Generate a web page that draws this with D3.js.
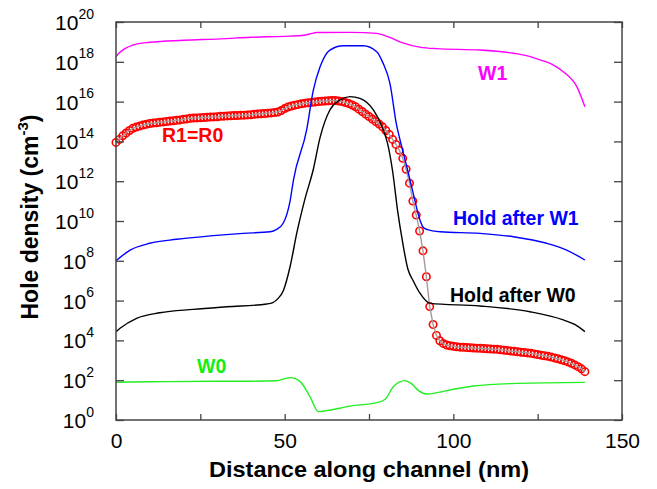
<!DOCTYPE html>
<html lang="en">
<head>
  <meta charset="UTF-8" />
  <title>Hole density along channel</title>
  <script src="https://d3js.org/d3.v7.min.js"></script>
  <style>
    body { margin: 0; background: #fff; }
    svg { font-family: "Liberation Sans", Arial, sans-serif; }
  </style>
</head>
<body>
  <svg width="657" height="489"></svg>
  <script>
    // log10 of hole density (cm^-3)
    const w1X   = [0, 1, 2.5, 5, 10, 20, 31, 40, 50, 55, 57.5, 59.5, 70, 77.3, 79.5, 82.2, 85, 90, 95, 107.9, 117.8, 122, 125.7, 129, 132.6, 136.6, 139];
    const w1Log = [18.26, 18.45, 18.65, 18.84, 18.98, 19.08, 19.15, 19.23, 19.28, 19.32, 19.4, 19.47, 19.48, 19.43, 19.33, 19.15, 18.95, 18.74, 18.66, 18.59, 18.43, 18.3, 18.1, 17.9, 17.5, 16.75, 15.74];

    const hw1X   = [0, 4.2, 10, 18, 27.9, 37.7, 45.7, 47.6, 49.6, 51.6, 52.6, 56.5, 58.5, 60.5, 63.4, 67.4, 73.3, 77.3, 79.2, 81.2, 83.2, 84.2, 86.2, 88.1, 90.1, 91, 92.1, 96.1, 107.9, 117.8, 127.7, 133.6, 139];
    const hw1Log = [8.0, 8.54, 8.88, 9.08, 9.25, 9.38, 9.46, 9.58, 9.9, 11.0, 12.06, 14.57, 16.58, 17.75, 18.59, 18.81, 18.81, 18.51, 17.92, 16.92, 14.8, 14.07, 12.73, 11.39, 10.05, 9.7, 9.58, 9.46, 9.38, 9.21, 8.88, 8.54, 8.04];

    const hw0X   = [0, 1.2, 6.1, 13, 22.9, 32.8, 44.7, 46.5, 48, 49.6, 51.6, 53.6, 56, 58.5, 60.5, 63.4, 66.4, 69.4, 72.3, 76.3, 79.2, 80.5, 82, 83.5, 85, 86.5, 88.1, 90.1, 93.1, 107.9, 122.7, 132.6, 136, 139];
    const hw0Log = [4.44, 4.61, 5.11, 5.39, 5.56, 5.69, 5.83, 5.9, 6.1, 6.5, 7.7, 9.4, 11.1, 12.6, 14.2, 15.58, 16.08, 16.25, 16.16, 15.58, 14.6, 13.9, 12.5, 10.5, 8.9, 7.6, 7.0, 6.37, 5.86, 5.73, 5.44, 5.03, 4.8, 4.44];

    const w0X   = [0, 10, 30, 39.7, 47.6, 51.6, 54.6, 57.5, 60, 62.5, 69.4, 77.3, 79.8, 82.2, 85.7, 87.5, 89.5, 92.1, 99, 105.9, 118.8, 139];
    const w0Log = [1.9, 1.92, 1.95, 1.95, 1.97, 2.13, 1.93, 1.17, 0.42, 0.47, 0.7, 0.87, 1.04, 1.67, 1.98, 1.84, 1.5, 1.31, 1.51, 1.71, 1.84, 1.89];

    // R1=R0, one marker per nm from 0 to 139
    const rLog = [
      13.95, 14.1, 14.28, 14.42, 14.55, 14.66, 14.72, 14.77, 14.82, 14.86,
      14.9, 14.92, 14.94, 14.96, 14.98, 15.0, 15.02, 15.04, 15.06, 15.08,
      15.11, 15.13, 15.16, 15.17, 15.18, 15.19, 15.2, 15.21, 15.22, 15.23,
      15.24, 15.26, 15.27, 15.28, 15.29, 15.3, 15.3, 15.31, 15.32, 15.33,
      15.34, 15.36, 15.38, 15.39, 15.4, 15.42, 15.43, 15.45, 15.48, 15.55,
      15.65, 15.73, 15.78, 15.82, 15.86, 15.89, 15.92, 15.94, 15.96, 15.98,
      16.0, 16.02, 16.03, 16.04, 16.05, 16.05, 16.03, 16.0, 15.95, 15.9,
      15.83, 15.74, 15.62, 15.5, 15.37, 15.25, 15.12, 15.0, 14.87, 14.73,
      14.55, 14.35, 14.1, 13.85, 13.55, 13.15, 12.6, 11.9, 11.0, 10.3,
      9.5, 8.5, 7.2, 5.7, 4.8, 4.25, 3.98, 3.85, 3.77, 3.73,
      3.7, 3.68, 3.66, 3.65, 3.64, 3.63, 3.62, 3.61, 3.6, 3.59,
      3.58, 3.57, 3.56, 3.55, 3.53, 3.51, 3.49, 3.47, 3.45, 3.43,
      3.41, 3.39, 3.37, 3.35, 3.32, 3.29, 3.26, 3.23, 3.2, 3.16,
      3.12, 3.08, 3.03, 2.98, 2.92, 2.85, 2.77, 2.68, 2.57, 2.43
    ];

    const xTicks = [0, 25, 50, 75, 100, 125, 150];
    const xLabels = [0, 50, 100, 150];
    const yExps = [0, 2, 4, 6, 8, 10, 12, 14, 16, 18, 20];

    const svg = d3.select("svg");
    const pL = 116, pR = 622, pT = 22, pB = 420;

    const x = d3.scaleLinear().domain([0, 150]).range([pL, pR]);
    const y = d3.scaleLog().domain([1, 1e20]).range([pB, pT]);

    const pts = (xs, ls) => xs.map((v, i) => [v, Math.pow(10, ls[i])]);
    const line = d3.line().x(d => x(d[0])).y(d => y(d[1])).curve(d3.curveMonotoneX);

    // red markers first, solid lines over them
    const rPts = rLog.map((v, i) => [i, Math.pow(10, v)]);
    svg.append("g")
      .selectAll("circle")
      .data(rPts)
      .join("circle")
      .attr("cx", d => x(d[0]))
      .attr("cy", d => y(d[1]))
      .attr("r", 3.7)
      .attr("fill", "none")
      .attr("stroke", "#ff0000")
      .attr("stroke-width", 1.6);
    svg.append("path")
      .datum(rPts)
      .attr("d", d3.line().x(d => x(d[0])).y(d => y(d[1])))
      .attr("fill", "none")
      .attr("stroke", "#a89898")
      .attr("stroke-width", 1.4);

    const series = [
      [w1X, w1Log, "#ff00ff"],
      [hw1X, hw1Log, "#0000ff"],
      [hw0X, hw0Log, "#000000"],
      [w0X, w0Log, "#22ee22"]
    ];
    series.forEach(([xs, ls, c]) => {
      svg.append("path")
        .datum(pts(xs, ls))
        .attr("d", line)
        .attr("fill", "none")
        .attr("stroke", c)
        .attr("stroke-width", 1.4);
    });

    // axes, ticks pointing inward
    const axisColor = "#444";
    svg.append("g")
      .attr("transform", `translate(0,${pB})`)
      .call(d3.axisBottom(x).tickValues(xTicks).tickSize(-6).tickSizeOuter(0).tickPadding(13)
        .tickFormat(d => xLabels.includes(d) ? d : ""))
      .call(g => g.select(".domain").remove())
      .call(g => g.selectAll("line").attr("stroke", axisColor).attr("stroke-width", 1.3))
      .call(g => g.selectAll("text").attr("font-size", 21).attr("font-family", "Liberation Sans").attr("fill", "#000"));

    svg.append("g")
      .attr("transform", `translate(0,${pT})`)
      .call(d3.axisTop(x).tickValues(xTicks).tickSize(-6).tickSizeOuter(0).tickFormat(""))
      .call(g => g.select(".domain").remove())
      .call(g => g.selectAll("line").attr("stroke", axisColor).attr("stroke-width", 1.3));

    const yTicks = yExps.map(e => Math.pow(10, e));
    svg.append("g")
      .attr("transform", `translate(${pL},0)`)
      .call(d3.axisLeft(y).tickValues(yTicks).tickSize(-8).tickSizeOuter(0).tickPadding(22).tickFormat(""))
      .call(g => g.select(".domain").remove())
      .call(g => g.selectAll("line").attr("stroke", axisColor).attr("stroke-width", 1.3))
      .call(g => g.selectAll(".tick text").each(function (d) {
        const t = d3.select(this).attr("dy", null).attr("y", 7.5)
          .attr("font-family", "Liberation Sans").attr("fill", "#000");
        t.append("tspan").attr("font-size", 21).text("10");
        t.append("tspan").attr("font-size", 14).attr("dy", -11.5).text(Math.round(Math.log10(d)));
      }));

    svg.append("g")
      .attr("transform", `translate(${pR},0)`)
      .call(d3.axisRight(y).tickValues(yTicks).tickSize(-8).tickSizeOuter(0).tickFormat(""))
      .call(g => g.select(".domain").remove())
      .call(g => g.selectAll("line").attr("stroke", axisColor).attr("stroke-width", 1.3));

    svg.append("rect")
      .attr("x", pL).attr("y", pT)
      .attr("width", pR - pL).attr("height", pB - pT)
      .attr("fill", "none")
      .attr("stroke", axisColor)
      .attr("stroke-width", 1.5);

    // axis titles
    svg.append("text")
      .attr("x", (pL + pR) / 2).attr("y", 477)
      .attr("text-anchor", "middle")
      .attr("font-size", 22).attr("font-weight", "bold")
      .attr("textLength", 320).attr("lengthAdjust", "spacingAndGlyphs")
      .text("Distance along channel (nm)");

    const yt = svg.append("text")
      .attr("transform", `translate(38,${(pT + pB) / 2 - 4}) rotate(-90)`)
      .attr("text-anchor", "middle")
      .attr("font-size", 23).attr("font-weight", "bold");
    yt.append("tspan").text("Hole density (cm");
    yt.append("tspan").attr("font-size", 15).attr("dy", -10).text("-3");
    yt.append("tspan").attr("dy", 10).text(")");

    // curve labels
    const labels = [
      ["W1", 478, 80, "#ff00ff"],
      ["R1=R0", 162, 142, "#ff0000"],
      ["Hold after W1", 453, 225, "#0000ff"],
      ["Hold after W0", 450, 302, "#000000"],
      ["W0", 197, 373, "#11ee11"]
    ];
    svg.append("g")
      .selectAll("text")
      .data(labels)
      .join("text")
      .attr("x", d => d[1]).attr("y", d => d[2])
      .attr("fill", d => d[3])
      .attr("font-size", 19.5).attr("font-weight", "bold")
      .text(d => d[0]);
  </script>
</body>
</html>
